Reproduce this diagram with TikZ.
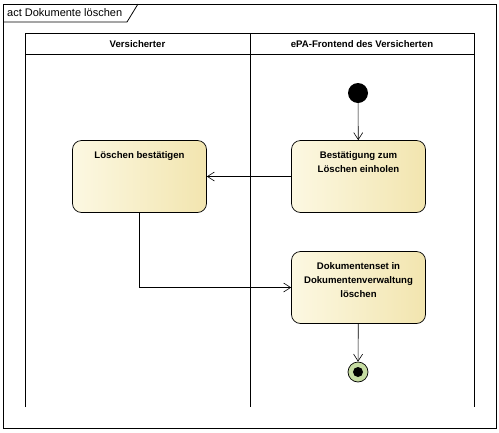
\documentclass[tikz,border=0pt]{standalone}
\usepackage{fontspec}
\setmainfont{Liberation Sans}
\usetikzlibrary{arrows.meta,positioning}
\definecolor{actleft}{HTML}{FCF8E2}
\definecolor{actright}{HTML}{F2E5AF}
\definecolor{endgreen}{HTML}{C6DCA2}
\tikzset{frame line/.style={draw=black, line width=0.8pt},
  title text/.style={font=\fontsize{11}{12}\selectfont, inner sep=1pt},
  lane head/.style={font=\bfseries\fontsize{9.6}{12}\selectfont, inner sep=1pt},
  action text/.style={anchor=north, yshift=-8pt, align=center, font=\bfseries\fontsize{9.6}{14}\selectfont},
  action/.style={draw, line width=0.7pt, rounded corners=9pt, minimum width=134pt, minimum height=72pt, inner sep=0pt,
    left color=actleft, right color=actright, label={[action text]north:{#1}}},
  start node/.style={circle, fill=black, minimum size=20pt, inner sep=0pt},
  end node/.style={circle, draw, line width=0.7pt, fill=endgreen, minimum size=20pt, inner sep=0pt,
    path picture={\fill[black] (path picture bounding box.center) circle (5pt);}},
  flow/.style={-{Straight Barb[length=7pt,width=9pt]}, line width=0.6pt}}
\begin{document}
\begin{tikzpicture}[x=1pt,y=-1pt]
\useasboundingbox (0,0) rectangle (499,432);
% Rahmen mit Titel
\draw[frame line] (3,4) rectangle (496,428);
\node[title text, anchor=west] (titel) at (6,13) {act Dokumente löschen};
\draw[frame line] (3,22) -- (127,22) -- (138,4);

% Swimlanes
\draw[frame line] (25,407) -- (25,33) -- (474,33) -- (474,407);
\draw[frame line] (250,33) -- (250,407);
\draw[frame line] (25,54) -- (474,54);
\node[lane head] (versicherter) at (137.5,44) {Versicherter};
\node[lane head] (frontend) at (362,44) {ePA-Frontend des Versicherten};

% Aktionen
\node[start node] (start) at (358,93) {};
\node[action={Bestätigung zum\\Löschen einholen}] (einholen) at (358.5,176.5) {};
\node[action={Löschen bestätigen}] (bestaetigen) at (139.5,176.5) {};
\node[action={Dokumentenset in\\Dokumentenverwaltung\\löschen}] (loeschen) at (358.5,287.5) {};
\node[end node] (ende) at (358,372) {};

% Kontrollfluss
\draw[flow] (start) -- (einholen);
\draw[flow] (einholen) -- (bestaetigen);
\draw[flow] (bestaetigen) |- (loeschen);
\draw[flow] (loeschen) -- (ende);
\end{tikzpicture}
\end{document}
